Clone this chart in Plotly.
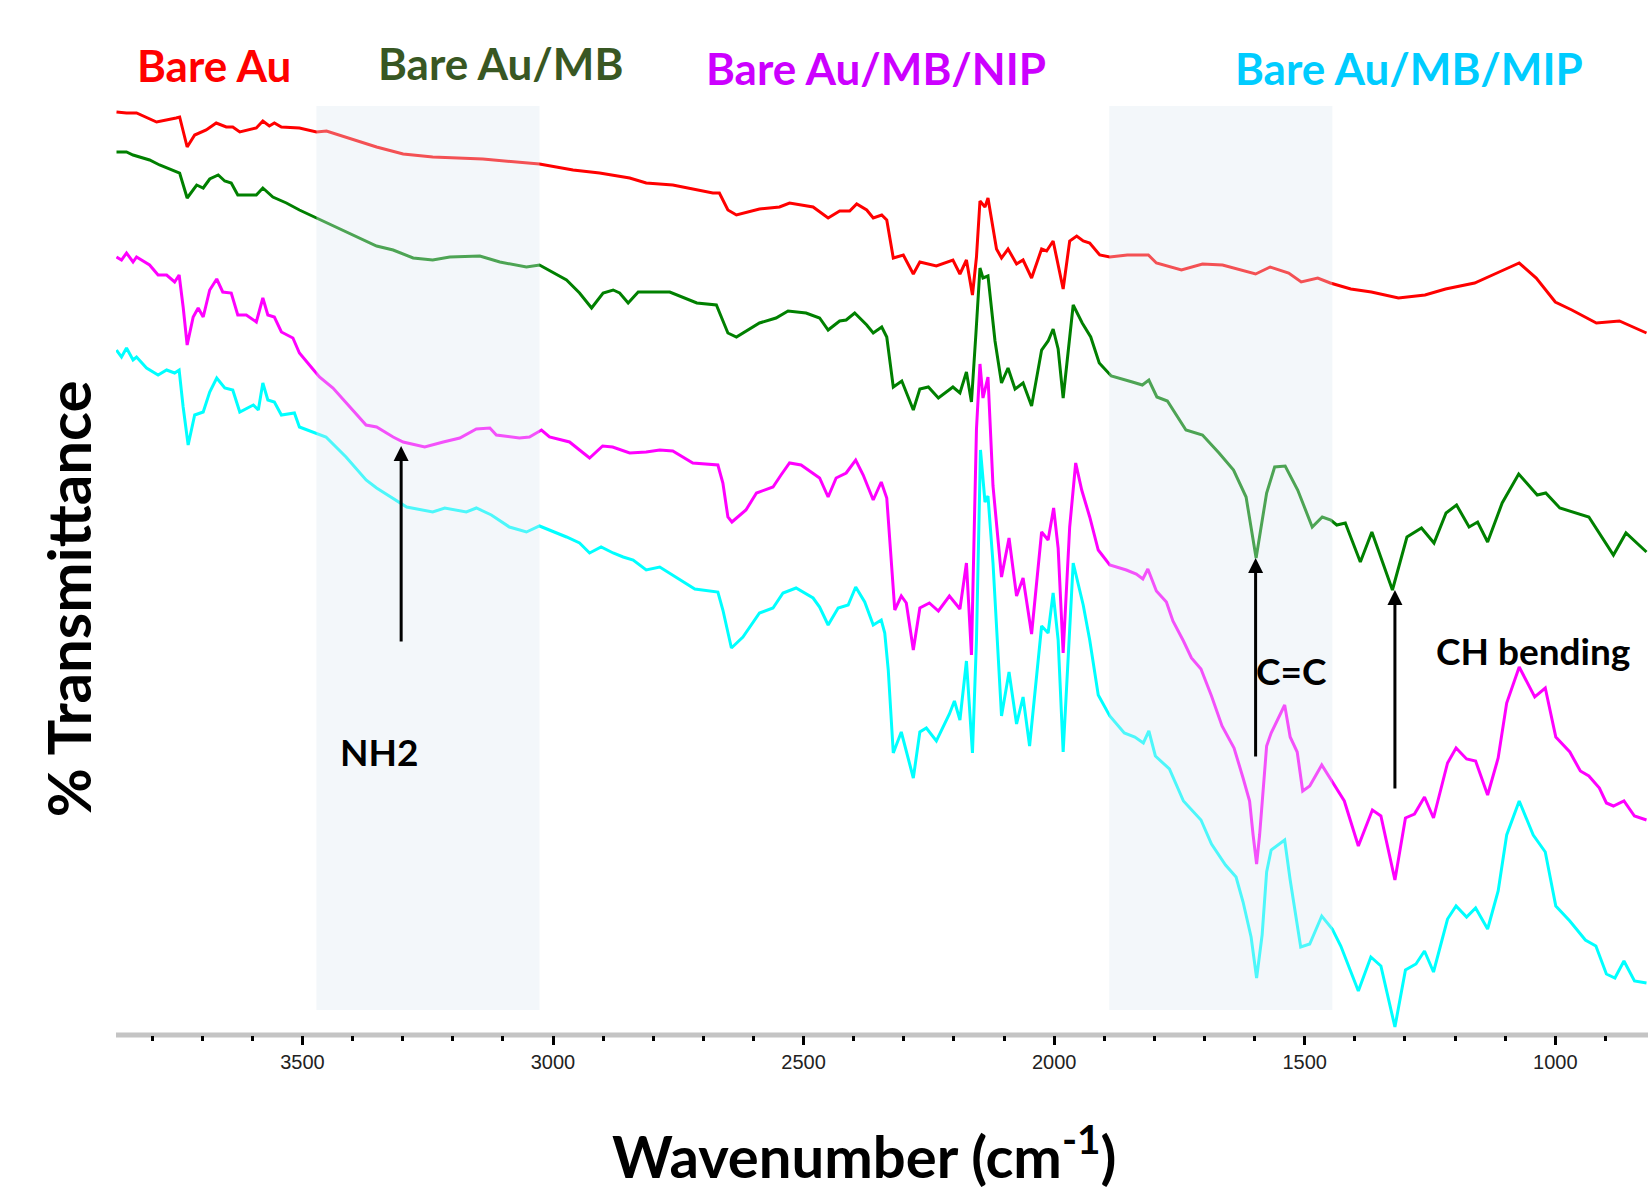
import plotly.graph_objects as go

# ---------------- data (wavenumber cm-1, offset transmittance) ----------------
red_wn = [3871,3851,3831,3791,3752,3745,3730,3715,3692,3672,3652,3639,3625,3592,3579,3566,3556,3542,3506,3472,3452,3406,3352,3299,3240,3140,3027,2960,2907,2847,2814,2761,2681,2668,2651,2634,2588,2548,2528,2481,2451,2428,2408,2394,2374,2361,2344,2334,2321,2301,2281,2268,2235,2202,2188,2175,2163,2155,2148,2138,2132,2115,2105,2092,2075,2062,2045,2025,2015,2002,1992,1982,1969,1955,1942,1929,1909,1889,1854,1812,1796,1746,1704,1664,1598,1569,1532,1507,1474,1449,1408,1367,1313,1260,1219,1161,1112,1072,1038,1000,967,918,872,818]
red_t = [98.8,98.7,98.7,97.8,98.2,98.3,95.3,96.5,97.0,97.7,97.3,97.3,96.8,97.2,97.9,97.4,97.7,97.3,97.2,96.8,96.9,96.2,95.3,94.6,94.3,94.1,93.6,93.0,92.7,92.2,91.7,91.5,90.7,90.7,89.0,88.5,89.1,89.3,89.7,89.3,88.2,88.9,88.9,89.6,89.0,88.2,88.5,88.0,84.2,84.5,82.6,83.8,83.4,84.0,82.6,84.0,80.5,84.3,89.9,89.3,90.2,85.1,84.2,85.1,83.6,84.0,82.2,85.1,84.9,85.9,83.6,81.1,85.9,86.4,85.9,85.7,84.5,84.3,84.5,84.5,83.7,83.0,83.6,83.5,82.6,83.3,82.7,81.8,82.2,81.7,81.1,80.8,80.2,80.5,81.1,81.7,82.8,83.7,82.2,79.8,79.0,77.7,77.9,76.7]

green_wn = [3871,3851,3838,3805,3785,3752,3745,3730,3711,3698,3685,3668,3655,3642,3629,3592,3579,3559,3532,3506,3472,3439,3399,3352,3319,3279,3240,3206,3146,3106,3053,3027,2973,2947,2923,2900,2880,2867,2850,2830,2767,2713,2674,2651,2634,2588,2555,2531,2495,2468,2451,2428,2415,2398,2374,2361,2344,2334,2321,2304,2281,2268,2251,2231,2202,2188,2175,2165,2156,2148,2142,2132,2118,2105,2092,2078,2062,2045,2025,2012,2002,1992,1982,1969,1962,1944,1927,1910,1886,1844,1824,1811,1795,1774,1737,1704,1671,1642,1617,1597,1576,1560,1539,1514,1485,1465,1448,1436,1419,1389,1366,1325,1296,1267,1242,1218,1197,1172,1155,1135,1106,1073,1036,1019,991,933,884,859,818]
green_t = [94.8,94.8,94.5,94.0,93.5,92.8,92.7,90.2,91.5,91.2,92.1,92.5,91.9,91.7,90.5,90.5,91.2,90.3,89.7,89.0,88.2,87.5,86.5,85.4,85.0,84.2,84.0,84.3,84.4,83.8,83.3,83.5,82.0,80.7,79.2,80.7,81.0,80.7,79.7,80.8,80.8,79.7,79.5,76.7,76.3,77.7,78.2,78.9,78.7,78.2,77.0,77.9,78.0,78.7,77.5,76.7,77.3,76.3,71.3,71.9,69.0,71.1,71.3,70.2,71.3,70.7,72.8,69.8,76.7,83.2,82.2,82.4,75.9,71.7,73.2,71.1,71.7,69.4,75.0,75.9,77.1,75.1,70.2,75.9,79.5,77.7,76.3,73.7,72.4,71.8,71.5,72.0,70.3,69.9,67.0,66.5,64.7,63.0,60.3,54.2,60.7,63.3,63.4,61.0,57.3,58.3,58.0,57.5,57.7,53.8,56.8,51.0,56.3,57.2,55.7,58.7,59.5,57.3,57.8,55.8,59.7,62.6,60.5,60.7,59.2,58.3,54.5,56.7,54.8]

nip_wn = [3871,3861,3851,3838,3831,3805,3788,3771,3755,3746,3738,3730,3718,3708,3698,3685,3671,3659,3642,3629,3612,3592,3579,3569,3556,3542,3519,3506,3486,3466,3439,3406,3373,3352,3319,3299,3256,3219,3186,3153,3126,3113,3067,3047,3023,3007,2967,2947,2927,2901,2881,2847,2814,2787,2761,2721,2671,2661,2651,2643,2615,2594,2561,2545,2528,2505,2481,2468,2451,2435,2415,2396,2381,2361,2345,2334,2328,2318,2305,2295,2281,2268,2249,2231,2209,2188,2175,2165,2155,2148,2142,2132,2122,2105,2090,2075,2062,2045,2025,2012,2001,1992,1982,1969,1957,1945,1929,1912,1889,1856,1836,1823,1813,1796,1776,1763,1742,1726,1707,1686,1665,1641,1623,1610,1603,1596,1590,1576,1567,1553,1540,1529,1515,1504,1490,1466,1445,1421,1393,1365,1348,1320,1299,1281,1261,1243,1215,1198,1177,1159,1135,1114,1097,1072,1041,1020,999,971,950,933,912,898,884,863,842,818]
nip_t = [84.3,84.0,84.7,83.8,84.3,83.5,82.5,82.5,81.8,82.5,79.3,75.5,78.3,79.2,78.3,81.0,82.1,80.8,80.7,78.5,78.5,77.8,80.2,78.5,78.3,76.8,76.2,74.7,73.5,72.3,71.2,69.3,67.5,67.3,66.3,65.8,65.3,65.8,66.2,67.1,67.2,66.5,66.2,66.3,67.0,66.3,65.8,65.0,64.2,65.4,65.3,64.7,64.8,65.0,64.9,63.7,63.5,61.7,58.3,57.8,59.0,60.7,61.3,62.5,63.7,63.5,62.7,62.2,60.3,62.2,62.7,64.0,62.5,60.0,61.8,60.2,56.0,49.0,50.4,49.7,45.0,49.2,49.7,48.9,50.4,49.1,53.7,44.5,67.1,73.6,70.2,72.3,61.4,52.3,56.2,50.4,52.2,46.6,56.8,56.0,59.2,55.2,44.7,57.3,63.7,61.0,58.3,55.0,53.5,53.0,52.6,52.1,53.1,50.9,49.8,47.9,45.9,44.2,43.1,40.4,37.4,35.2,32.2,29.9,26.5,23.6,26.5,35.4,36.7,38.2,39.5,36.3,34.8,30.9,31.4,33.5,31.8,29.9,25.4,29.0,28.4,22.0,28.2,28.6,30.3,28.2,33.7,35.2,34.1,33.9,30.5,34.2,39.7,43.3,40.3,41.2,36.3,34.8,32.9,32.4,31.2,29.7,29.4,29.9,28.4,28.0]

mip_wn = [3871,3861,3851,3838,3831,3811,3788,3771,3755,3746,3738,3728,3715,3698,3685,3671,3655,3639,3625,3598,3588,3579,3569,3556,3542,3516,3506,3479,3453,3413,3373,3352,3319,3292,3240,3216,3173,3153,3123,3087,3053,3027,2973,2947,2927,2904,2880,2860,2840,2814,2787,2754,2717,2671,2661,2644,2621,2588,2561,2541,2515,2481,2468,2451,2431,2411,2396,2378,2361,2345,2338,2331,2321,2305,2281,2268,2255,2235,2209,2199,2188,2175,2163,2155,2147,2138,2132,2122,2105,2090,2075,2062,2049,2025,2012,2002,1992,1982,1962,1942,1929,1912,1889,1860,1839,1822,1811,1798,1770,1742,1707,1686,1658,1637,1623,1607,1596,1585,1576,1567,1557,1540,1529,1508,1490,1466,1445,1428,1393,1368,1348,1320,1299,1278,1261,1243,1215,1198,1177,1159,1135,1114,1097,1072,1044,1020,999,971,940,919,898,881,863,842,818]
mip_t = [75.0,74.3,75.2,74.0,74.3,73.2,72.5,73.0,72.7,73.0,69.3,65.5,68.5,68.8,70.8,72.2,71.2,71.0,68.8,69.5,69.0,71.7,70.0,69.8,68.5,68.7,67.3,66.8,66.3,64.3,62.0,61.2,60.2,59.3,58.8,59.2,58.8,59.2,58.5,57.3,56.8,57.4,56.3,55.7,54.7,55.3,54.7,54.3,54.0,53.0,53.3,52.3,51.1,50.8,49.0,45.2,46.3,48.7,49.2,50.7,51.2,50.2,49.3,47.5,49.2,49.5,51.3,49.8,47.5,48.0,46.7,43.0,34.7,36.8,32.2,36.8,37.2,35.9,38.6,39.9,38.0,43.9,34.7,46.0,65.0,59.8,60.4,53.7,38.4,42.8,37.6,40.3,35.4,47.4,46.7,50.7,46.0,34.8,53.7,49.5,46.0,40.5,38.4,36.7,36.3,35.7,36.9,34.4,33.1,29.9,28.0,25.6,23.5,22.3,19.8,16.3,12.2,16.5,22.8,25.0,25.4,26.0,22.0,15.3,15.6,18.4,17.1,15.4,10.9,14.3,13.4,7.3,13.0,13.6,14.9,12.8,18.1,19.4,18.3,19.2,17.1,20.9,26.5,29.9,26.5,24.8,19.4,17.9,16.0,15.4,12.6,12.2,13.9,11.9,11.7]

series_names = ["Bare Au", "Bare Au/MB", "Bare Au/MB/NIP", "Bare Au/MB/MIP"]
line_colors = ["#ff0000", "#008000", "#ff00ff", "#00ffff"]
label_colors = ["#ff0000", "#385723", "#cc00ff", "#00ccff"]

# shaded bands (wavenumber ranges)
band_lo = [3027, 1445]
band_hi = [3472, 1890]

# peak-assignment arrows and notes
arrow_wn = [3303, 1598, 1320]
arrow_tail = [45.7, 34.2, 31.0]
arrow_head = [65.4, 54.2, 51.0]
note_text = ["NH2", "C=C", "CH bending"]
note_wn = [3347, 1527, 1045]
note_t = [34.9, 43.0, 45.0]

# ---------------- figure ----------------
fig = go.Figure()
for wn, t, name, col in zip([red_wn, green_wn, nip_wn, mip_wn],
                            [red_t, green_t, nip_t, mip_t],
                            series_names, line_colors):
    fig.add_trace(go.Scatter(x=wn, y=t, mode="lines", name=name,
                             line=dict(color=col, width=3), showlegend=False))

for lo, hi in zip(band_lo, band_hi):
    fig.add_shape(type="rect", xref="x", yref="y", x0=hi, x1=lo, y0=9.0, y1=99.4,
                  fillcolor="rgb(220,232,242)", opacity=0.35, line_width=0, layer="above")

# gray axis band
fig.add_shape(type="line", xref="paper", yref="paper", x0=0, x1=1, y0=0, y1=0,
              line=dict(color="#c4c4c4", width=5), layer="below")

for aw, tail, head in zip(arrow_wn, arrow_tail, arrow_head):
    fig.add_annotation(x=aw, y=head, ax=aw, ay=tail, xref="x", yref="y",
                       axref="x", ayref="y", text="", showarrow=True,
                       arrowhead=2, arrowsize=1, arrowwidth=3, arrowcolor="black")

for txt, nw, nt in zip(note_text, note_wn, note_t):
    fig.add_annotation(x=nw, y=nt, xref="x", yref="y", text="<b>%s</b>" % txt,
                       showarrow=False, xanchor="center", yanchor="middle",
                       font=dict(family="Lato", size=37, color="black"))

label_x = [0.0642, 0.2508, 0.4958, 0.8439]
label_y = [1.0372, 1.0396, 1.0339, 1.0339]
for name, col, lx, ly in zip(series_names, label_colors, label_x, label_y):
    fig.add_annotation(x=lx, y=ly, xref="paper", yref="paper", text="<b>%s</b>" % name,
                       showarrow=False, xanchor="center", yanchor="middle",
                       font=dict(family="Lato", size=44, color=col))

fig.add_annotation(x=0.4883, y=-0.1255, xref="paper", yref="paper",
                   text="<b>Wavenumber (cm<sup>-1</sup>)</b>", showarrow=False,
                   xanchor="center", yanchor="middle",
                   font=dict(family="Lato", size=58, color="black"))
fig.add_annotation(x=-0.0311, y=0.4663, xref="paper", yref="paper",
                   text="<b>% Transmittance</b>", showarrow=False, textangle=-90,
                   xanchor="center", yanchor="middle",
                   font=dict(family="Lato", size=60, color="black"))

fig.update_xaxes(range=[3872, 815], showgrid=False, zeroline=False, showline=False,
                 tickmode="linear", tick0=0, dtick=500,
                 ticks="outside", ticklen=9, tickwidth=3, tickcolor="black",
                 minor=dict(dtick=100, tick0=0, ticks="outside", ticklen=5,
                            tickwidth=3, tickcolor="black", showgrid=False),
                 tickfont=dict(family="Liberation Sans Narrow, Liberation Sans", size=20,
                               color="#222222"))
fig.update_yaxes(range=[6.5, 100], visible=False, showgrid=False, zeroline=False)

fig.update_layout(width=1648, height=1197, autosize=False,
                  margin=dict(l=116, r=0, t=100, b=162),
                  plot_bgcolor="white", paper_bgcolor="white")

fig.write_html("out.html")
